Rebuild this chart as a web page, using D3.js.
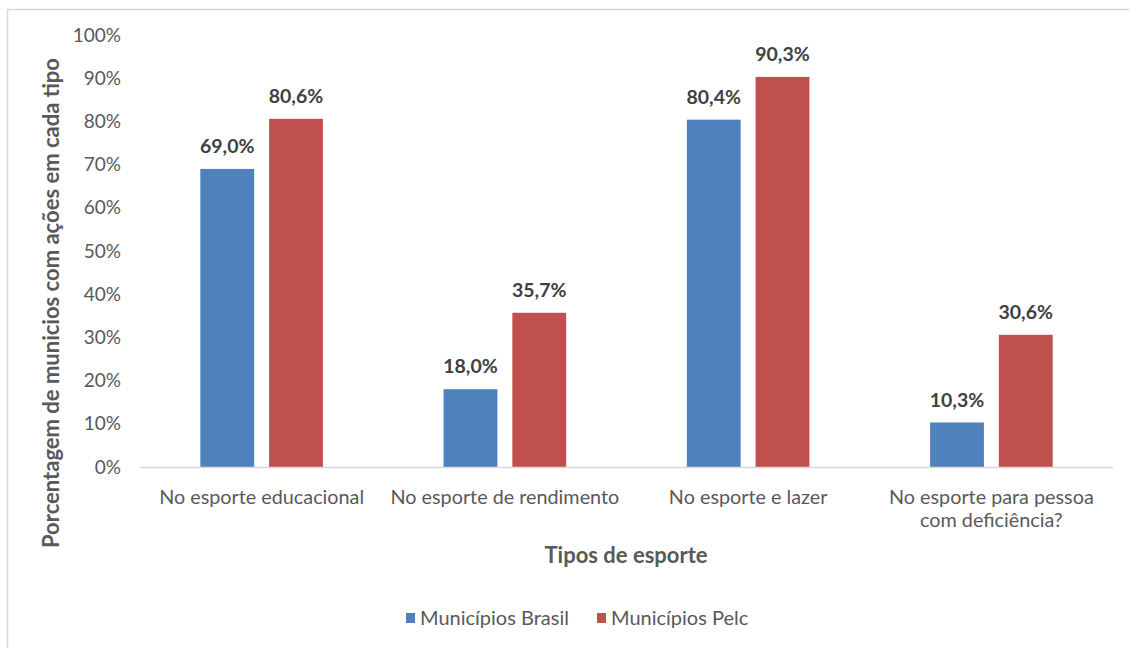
<!DOCTYPE html>
<html>
<head>
<meta charset="utf-8">
<script src="https://cdn.jsdelivr.net/npm/d3@7"></script>
<style>
  html, body { margin: 0; padding: 0; background: #fff; }
  svg { display: block; }
  svg text { font-family: Lato, "Open Sans", sans-serif; }
</style>
</head>
<body>
<svg id="chart" width="1129" height="648"></svg>
<script>
// Tipos de esporte e percentual de municípios com ações em cada tipo
const categories = [
  ["No esporte educacional"],
  ["No esporte de rendimento"],
  ["No esporte e lazer"],
  ["No esporte para pessoa", "com deficiência?"]
];
const seriesNames = ["Municípios Brasil", "Municípios Pelc"];
const brasilValues = [0.690, 0.180, 0.804, 0.103];
const pelcValues   = [0.806, 0.357, 0.903, 0.306];
const yTicks = [0, 0.1, 0.2, 0.3, 0.4, 0.5, 0.6, 0.7, 0.8, 0.9, 1.0];
const colors = ["#4F81BD", "#C0504D"];

const svg = d3.select("#chart");
const W = 1129, H = 648;
const plot = { left: 140, right: 1113, top: 35, bottom: 467 };
const FONT = "Lato, 'Open Sans', sans-serif";

// outer frame (continues past the right and bottom edges)
svg.append("rect")
  .attr("x", 7.5).attr("y", 9.5)
  .attr("width", W + 20).attr("height", H + 20)
  .attr("fill", "#fff").attr("stroke", "#d9d9d9").attr("stroke-width", 1.5);

const x0 = d3.scaleBand()
  .domain(d3.range(categories.length))
  .range([plot.left, plot.right])
  .paddingInner(0).paddingOuter(0);

// the pair of bars occupies the middle ~50% of each category band
const groupPad = x0.bandwidth() * 0.248;
const x1 = d3.scaleBand()
  .domain(d3.range(seriesNames.length))
  .range([groupPad, x0.bandwidth() - groupPad])
  .paddingInner(0.217).paddingOuter(0);

const y = d3.scaleLinear().domain([0, 1]).range([plot.bottom, plot.top]);

// y axis tick labels (no axis line, no gridlines)
const yAxis = d3.axisLeft(y).tickValues(yTicks).tickFormat(d3.format(".0%")).tickSize(0).tickPadding(19);
const yg = svg.append("g").attr("transform", `translate(${plot.left},0)`).call(yAxis)
  .attr("font-family", FONT).attr("font-size", 19);
yg.select(".domain").remove();
yg.selectAll("text").attr("fill", "#595959");

// bars
const data = categories.map((c, i) => [brasilValues[i], pelcValues[i]]);
const groups = svg.append("g").selectAll("g")
  .data(data).join("g")
  .attr("transform", (d, i) => `translate(${x0(i)},0)`);

groups.selectAll("rect")
  .data(d => d.map((v, s) => ({ v, s })))
  .join("rect")
  .attr("x", d => x1(d.s))
  .attr("width", x1.bandwidth())
  .attr("y", d => y(d.v))
  .attr("height", d => y(0) - y(d.v))
  .attr("fill", d => colors[d.s]);

// value labels
const fmt = v => (v * 100).toFixed(1).replace(".", ",") + "%";
groups.selectAll("text.val")
  .data(d => d.map((v, s) => ({ v, s })))
  .join("text")
  .attr("class", "val")
  .attr("x", d => x1(d.s) + x1.bandwidth() / 2)
  .attr("y", d => y(d.v) - 16)
  .attr("text-anchor", "middle")
  .attr("fill", "#404040")
  .style("font-size", "19.5px")
  .style("font-weight", "bold")
  .text(d => fmt(d.v));

// baseline
svg.append("line")
  .attr("x1", plot.left).attr("x2", plot.right)
  .attr("y1", y(0) + 0.5).attr("y2", y(0) + 0.5)
  .attr("stroke", "#d9d9d9").attr("stroke-width", 1.5);

// category labels
const xAxis = d3.axisBottom(x0).tickSize(0).tickFormat(() => "");
const xg = svg.append("g").attr("transform", `translate(0,${plot.bottom})`).call(xAxis)
  .attr("font-family", FONT).attr("font-size", 19.8);
xg.select(".domain").remove();
xg.selectAll(".tick text").remove();
xg.selectAll(".tick").each(function(i) {
  const t = d3.select(this).append("text")
    .attr("text-anchor", "middle")
    .attr("fill", "#595959");
  categories[i].forEach((line, k) => {
    t.append("tspan").attr("x", 0).attr("y", 37 + k * 23).text(line);
  });
});

// axis titles
svg.append("text")
  .attr("x", 626).attr("y", 563)
  .attr("text-anchor", "middle")
  .attr("fill", "#595959")
  .style("font-size", "22px").style("font-weight", "bold")
  .text("Tipos de esporte");

svg.append("text")
  .attr("transform", "translate(59,303) rotate(-90)")
  .attr("text-anchor", "middle")
  .attr("fill", "#595959")
  .style("font-size", "22px").style("font-weight", "bold")
  .text("Porcentagem de municios com ações em cada tipo");

// legend
const legend = svg.append("g").attr("transform", "translate(406,618)");
const legendX = [0, 191];
seriesNames.forEach((name, s) => {
  const g = legend.append("g").attr("transform", `translate(${legendX[s]},0)`);
  g.append("rect").attr("x", 0).attr("y", -5).attr("width", 9).attr("height", 10).attr("fill", colors[s]);
  g.append("text").attr("x", 14).attr("y", 7)
    .attr("fill", "#595959").style("font-size", "20px").text(name);
});
</script>
</body>
</html>
